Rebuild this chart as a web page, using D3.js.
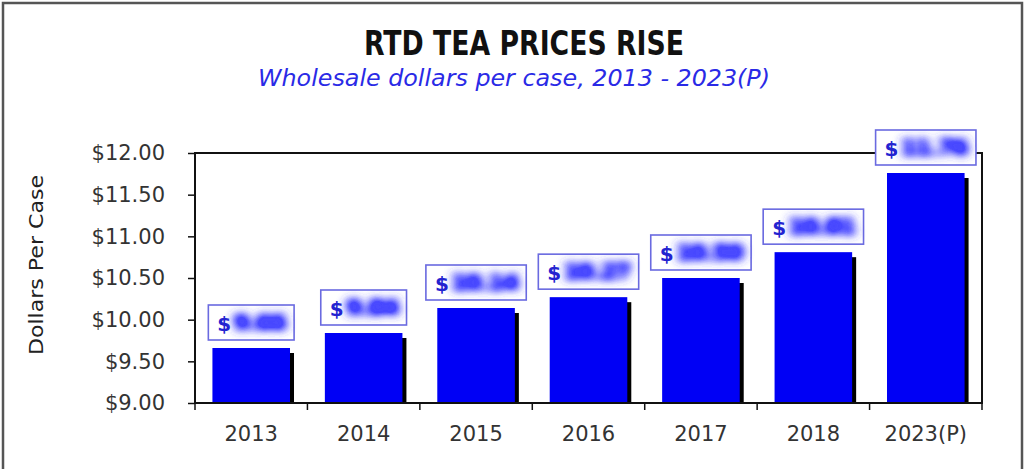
<!DOCTYPE html>
<html>
<head>
<meta charset="utf-8">
<script src="https://cdn.jsdelivr.net/npm/d3@7"></script>
<style>
  html, body { margin: 0; padding: 0; background: #fff; }
  svg { display: block; }
</style>
</head>
<body>
<svg id="chart" width="1026" height="469"></svg>
<script>
const categories = ["2013", "2014", "2015", "2016", "2017", "2018", "2023(P)"];
const values = [9.66, 9.84, 10.14, 10.27, 10.50, 10.81, 11.76];
const yTicks = [9.0, 9.5, 10.0, 10.5, 11.0, 11.5, 12.0];
const titleText = "RTD TEA PRICES RISE";
const subtitleText = "Wholesale dollars per case, 2013 - 2023(P)";
const yAxisTitle = "Dollars Per Case";

const svg = d3.select("#chart");
const m = { left: 195, right: 982, top: 153, bottom: 403 };

// blur filter for value labels (the reference hides the numbers)
const defs = svg.append("defs");
const f = defs.append("filter").attr("id", "blur").attr("x", "-30%").attr("y", "-80%")
  .attr("width", "160%").attr("height", "260%");
f.append("feGaussianBlur").attr("stdDeviation", "5.5 4.5").attr("result", "b");
f.append("feComponentTransfer").attr("in", "b")
  .append("feFuncA").attr("type", "linear").attr("slope", 2.6);

// outer frame
svg.append("rect").attr("x", 3).attr("y", 3).attr("width", 1019).attr("height", 490)
  .attr("fill", "#fff").attr("stroke", "#555").attr("stroke-width", 2.5);

// titles
svg.append("text").attr("x", 524).attr("y", 55).attr("text-anchor", "middle")
  .attr("font-family", "DejaVu Sans").attr("font-weight", "bold").attr("font-size", 33)
  .attr("textLength", 320).attr("lengthAdjust", "spacingAndGlyphs")
  .attr("fill", "#111").text(titleText);
svg.append("text").attr("x", 514).attr("y", 86).attr("text-anchor", "middle")
  .attr("font-family", "DejaVu Sans").attr("font-style", "italic").attr("font-size", 23)
  .attr("textLength", 512).attr("lengthAdjust", "spacingAndGlyphs")
  .attr("fill", "#2a2ae6").text(subtitleText);

const x = d3.scaleBand().domain(categories).range([m.left, m.right])
  .paddingInner(0.31).paddingOuter(0.155);
const y = d3.scaleLinear().domain([9, 12]).range([m.bottom, m.top]);

// y axis
const yAxis = svg.append("g").attr("transform", `translate(${m.left},0)`)
  .call(d3.axisLeft(y).tickValues(yTicks).tickSize(7).tickPadding(23)
    .tickFormat(d => "$" + d3.format(".2f")(d)));
yAxis.select(".domain").remove();
yAxis.selectAll("line").attr("stroke", "#111").attr("stroke-width", 1.5);
yAxis.selectAll("text").attr("font-family", "DejaVu Sans").attr("font-size", 21).attr("fill", "#333");

// x axis labels
const xAxis = svg.append("g").attr("transform", `translate(0,${m.bottom})`)
  .call(d3.axisBottom(x).tickSize(0).tickPadding(23));
xAxis.select(".domain").remove();
xAxis.selectAll("text").attr("font-family", "DejaVu Sans").attr("font-size", 21).attr("fill", "#333");

// category boundary ticks
const edges = categories.map(c => x(c) - x.step() * x.paddingInner() / 2);
edges.push(m.right);
svg.append("g").selectAll("line").data(edges).join("line")
  .attr("x1", d => d).attr("x2", d => d)
  .attr("y1", m.bottom).attr("y2", m.bottom + 7)
  .attr("stroke", "#111").attr("stroke-width", 1.5);

// bars: shadow then bar
const bars = svg.append("g");
bars.selectAll("rect.shadow").data(values).join("rect").attr("class", "shadow")
  .attr("x", (d, i) => x(categories[i]) + 4)
  .attr("y", d => y(d) + 5)
  .attr("width", x.bandwidth())
  .attr("height", d => y(9) - y(d) - 5)
  .attr("fill", "#000");
bars.selectAll("rect.bar").data(values).join("rect").attr("class", "bar")
  .attr("x", (d, i) => x(categories[i]))
  .attr("y", d => y(d))
  .attr("width", x.bandwidth())
  .attr("height", d => y(9) - y(d))
  .attr("fill", "#0000f5");

// plot frame
svg.append("rect").attr("x", m.left).attr("y", m.top)
  .attr("width", m.right - m.left).attr("height", m.bottom - m.top)
  .attr("fill", "none").attr("stroke", "#111").attr("stroke-width", 2);

// y axis title
svg.append("text").attr("transform", `translate(43,265) rotate(-90)`)
  .attr("text-anchor", "middle").attr("font-family", "DejaVu Sans").attr("font-size", 20)
  .attr("textLength", 180).attr("lengthAdjust", "spacingAndGlyphs")
  .attr("fill", "#222").text(yAxisTitle);

// value label boxes
const labels = svg.append("g");
values.forEach((v, i) => {
  const cx = x(categories[i]) + x.bandwidth() / 2;
  const g = labels.append("g");
  const box = g.append("rect").attr("fill", "#fff").attr("stroke", "#6a6ae0").attr("stroke-width", 1.6);
  const dollar = g.append("text").attr("font-family", "DejaVu Sans").attr("font-weight", "bold")
    .attr("font-size", 20).attr("fill", "#2323d0").attr("dominant-baseline", "central").text("$");
  const num = g.append("text").attr("font-family", "DejaVu Sans").attr("font-weight", "bold")
    .attr("font-size", 21).attr("fill", "#4a4aff").attr("dominant-baseline", "central")
    .attr("filter", "url(#blur)").text(d3.format(".2f")(v));
  const dw = dollar.node().getComputedTextLength();
  const nw = num.node().getComputedTextLength();
  const padL = 9, gap = 3, padR = 8;
  const bw = padL + dw + gap + nw + padR;
  const bh = 35;
  const bottom = y(v) - 8;
  const left = cx - bw / 2;
  box.attr("x", left).attr("y", bottom - bh).attr("width", bw).attr("height", bh);
  dollar.attr("x", left + padL).attr("y", bottom - bh / 2 + 1);
  num.attr("x", left + padL + dw + gap).attr("y", bottom - bh / 2);
});
</script>
</body>
</html>
